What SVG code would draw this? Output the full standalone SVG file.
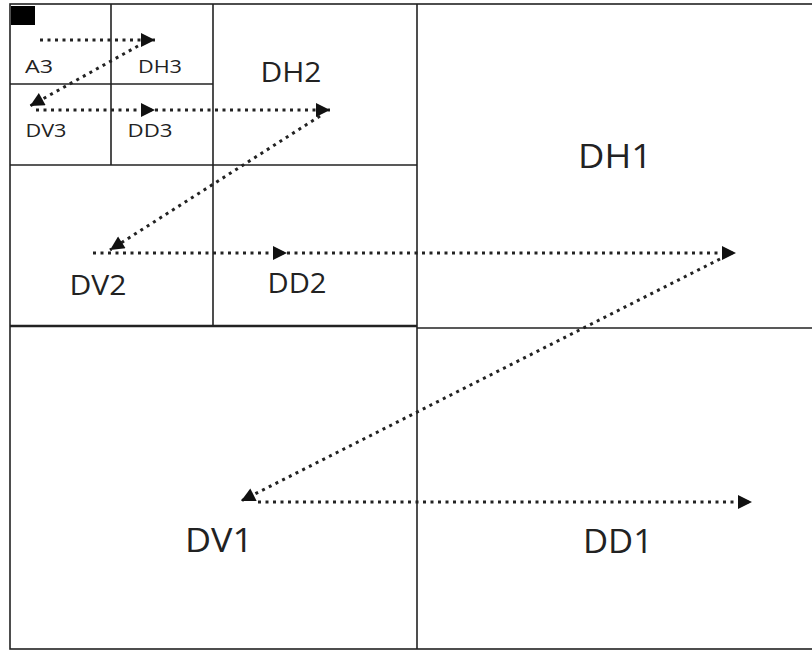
<svg xmlns="http://www.w3.org/2000/svg" width="812" height="651" viewBox="0 0 812 651">
<style>
.box{fill:none;stroke:#222;stroke-width:1.6}
.dot{fill:none;stroke:#222;stroke-width:3;stroke-dasharray:3 4.5}
.t{font-family:"Open Sans","DejaVu Sans",sans-serif;fill:#222;text-anchor:middle}
.s{font-size:18.5px}.m{font-size:27px}.l{font-size:33px}
</style>
<defs>
<marker id="ah" viewBox="0 0 10 10" refX="10" refY="5" markerUnits="userSpaceOnUse" markerWidth="17" markerHeight="14" orient="auto">
<path d="M0,0 L10,5 L0,10 z" fill="#111"/>
</marker>
</defs>
<rect width="812" height="651" fill="#fff"/>
<g id="grid">
<rect class="box" x="10" y="4" width="810" height="645"/>
<line class="box" x1="417" y1="4" x2="417" y2="649"/>
<line class="box" x1="10" y1="326" x2="417" y2="326" style="stroke-width:2.4"/>
<line class="box" x1="417" y1="328" x2="812" y2="328"/>
<line class="box" x1="213" y1="4" x2="213" y2="326"/>
<line class="box" x1="10" y1="165" x2="417" y2="165"/>
<line class="box" x1="111" y1="4" x2="111" y2="165"/>
<line class="box" x1="10" y1="84" x2="213" y2="84"/>
<rect x="11" y="6" width="24" height="19" fill="#000"/>
</g>
<g id="A3"><text class="t s" x="39" y="73" textLength="28" lengthAdjust="spacingAndGlyphs">A3</text></g>
<g id="DH3"><text class="t s" x="160" y="73" textLength="44" lengthAdjust="spacingAndGlyphs">DH3</text></g>
<g id="DV3"><text class="t s" x="46" y="137" textLength="41" lengthAdjust="spacingAndGlyphs">DV3</text></g>
<g id="DD3"><text class="t s" x="150" y="137" textLength="45" lengthAdjust="spacingAndGlyphs">DD3</text></g>
<g id="DH2"><text class="t m" x="291" y="82" textLength="61" lengthAdjust="spacingAndGlyphs">DH2</text></g>
<g id="DV2"><text class="t m" x="98" y="295" textLength="57" lengthAdjust="spacingAndGlyphs">DV2</text></g>
<g id="DD2"><text class="t m" x="297" y="293" textLength="59" lengthAdjust="spacingAndGlyphs">DD2</text></g>
<g id="DH1"><text class="t l" x="615" y="168" textLength="74" lengthAdjust="spacingAndGlyphs">DH1</text></g>
<g id="DV1"><text class="t l" x="219" y="552" textLength="68" lengthAdjust="spacingAndGlyphs">DV1</text></g>
<g id="DD1"><text class="t l" x="618" y="553" textLength="70" lengthAdjust="spacingAndGlyphs">DD1</text></g>
<g id="connectors">
<path class="dot" d="M40,40 H155" marker-end="url(#ah)"/>
<path class="dot" d="M138,46 L30,106" marker-end="url(#ah)"/>
<path class="dot" d="M36,110 H155" marker-end="url(#ah)"/>
<path class="dot" d="M155,110 H330" marker-end="url(#ah)"/>
<path class="dot" d="M320,116 L110,250" marker-end="url(#ah)"/>
<path class="dot" d="M93,253 H287" marker-end="url(#ah)"/>
<path class="dot" d="M287,253 H736" marker-end="url(#ah)"/>
<path class="dot" d="M720,259 L241,501" marker-end="url(#ah)"/>
<path class="dot" d="M258,502 H752" marker-end="url(#ah)"/>
</g>
</svg>
